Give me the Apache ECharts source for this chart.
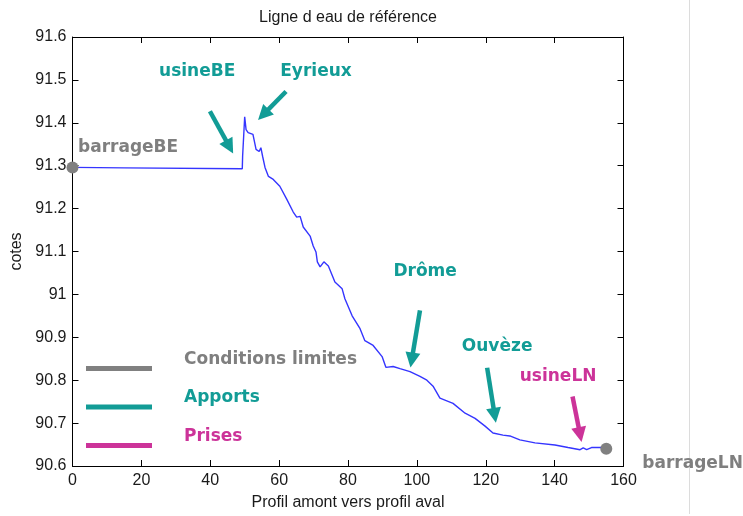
<!DOCTYPE html>
<html>
<head>
<meta charset="utf-8">
<script src="https://cdn.jsdelivr.net/npm/echarts@6/dist/echarts.min.js"></script>
<style>
  html, body { margin: 0; padding: 0; background: #fff; }
  #chart { width: 743px; height: 516px; }
</style>
</head>
<body>
<div id="chart"></div>
<script>
// Water line profile
const profil = [0, 15, 49.3, 49.4, 49.7, 50.0, 50.4, 51.0, 52.4, 53.3, 54.2, 54.7, 55.2, 55.9, 56.9, 58.3,
  60.2, 62.2, 64.1, 65.1, 66.1, 67.0, 69.0, 69.9, 70.7, 71.1, 71.9, 73.0, 74.3, 76.2, 78.3, 79.1, 81.2, 83.5,
  84.9, 87.3, 89.9, 91.0, 93.1, 95.1, 98.0, 100.9, 102.9, 104.7, 106.7, 110.5, 114.0, 116.9, 119.8, 122.1,
  125.0, 127.0, 129.9, 134.3, 140.1, 143.9, 147.4, 148.3, 149.3, 150.7, 153.7, 155]
const cotes = [91.296, 91.295, 91.293, 91.322, 91.325, 91.414, 91.384, 91.377, 91.373, 91.338, 91.333, 91.342,
  91.322, 91.296, 91.275, 91.268, 91.252, 91.222, 91.192, 91.180, 91.182, 91.157, 91.136, 91.113, 91.099, 91.076,
  91.064, 91.076, 91.066, 91.029, 91.013, 90.990, 90.950, 90.920, 90.892, 90.881, 90.855, 90.830, 90.832, 90.827,
  90.820, 90.809, 90.800, 90.786, 90.758, 90.746, 90.723, 90.711, 90.693, 90.677, 90.672, 90.670, 90.661, 90.654,
  90.649, 90.643, 90.638, 90.642, 90.638, 90.643, 90.643, 90.640]

const xTicks = { min: 0, max: 160, step: 20 }
const yTicks = { min: 90.6, max: 91.6, step: 0.1 }

// Annotations: boundary conditions, inflows (apports), withdrawals (prises)
const limitesNames = ['barrageBE', 'barrageLN']
const apportsNames = ['usineBE', 'Eyrieux', 'Drôme', 'Ouvèze']
const apportsLabelPos = [[36.2, 91.519], [70.7, 91.519], [102.4, 91.053], [123.3, 90.878]]
const apportsFrom = [[39.9, 91.427], [62.0, 91.473], [100.9, 90.963], [120.4, 90.829]]
const apportsTo = [[45.6, 91.344], [55.4, 91.419], [98.5, 90.847], [122.6, 90.718]]
const prisesNames = ['usineLN']
const prisesLabelPos = [[141.0, 90.808]]
const prisesFrom = [[145.2, 90.762]]
const prisesTo = [[147.4, 90.673]]

const GREY = '#808080'
const TEAL = '#129c96'
const MAGENTA = '#cc3399'
const annoFont = { fontFamily: '"DejaVu Sans", sans-serif', fontWeight: 'bold', fontSize: 17 }
const axisFont = { fontFamily: '"Liberation Sans", Arial, sans-serif', fontSize: 16, color: '#1a1a1a' }

const chart = echarts.init(document.getElementById('chart'))

function arrows(from, to, color) {
  return {
    silent: true,
    symbol: ['none', 'triangle'],
    symbolSize: [15, 15],
    lineStyle: { color, width: 4.5, type: 'solid', opacity: 1 },
    label: { show: false },
    data: from.map((p, i) => [{ coord: p }, { coord: to[i] }])
  }
}

function labelPoints(names, pos) {
  return names.map((n, i) => ({ name: n, value: pos[i] }))
}

const plainAxis = {
  min: xTicks.min, max: xTicks.max, interval: xTicks.step,
  axisLine: { onZero: false, lineStyle: { color: '#000', width: 1 } },
  axisTick: { inside: true, length: 6, lineStyle: { color: '#000' } },
  splitLine: { show: false }
}

const lastIdx = profil.length - 1

// legend text sits above its line: blank second row pushes the name up
const legendRich = {
  t: { ...annoFont, lineHeight: 18 },
  s: { fontSize: 10, lineHeight: 18 }
}

chart.setOption({
  backgroundColor: '#fff',
  animation: false,
  grid: { left: 72.5, right: 119.5, top: 37, bottom: 48 },
  legend: {
    orient: 'vertical',
    left: 81, top: 346,
    icon: 'rect',
    itemWidth: 66, itemHeight: 5, itemGap: 7,
    selectedMode: false,
    formatter: name => `{t|${name}}\n{s| }`,
    textStyle: { ...annoFont, padding: [0, 0, 0, 27], rich: legendRich },
    data: [
      { name: 'Conditions limites', textStyle: { color: '#7f7f7f' } },
      { name: 'Apports', textStyle: { color: TEAL } },
      { name: 'Prises', textStyle: { color: MAGENTA } }
    ]
  },
  xAxis: [
    {
      ...plainAxis, type: 'value', position: 'bottom',
      name: 'Profil amont vers profil aval', nameLocation: 'middle', nameGap: 29,
      nameTextStyle: axisFont,
      axisLabel: { ...axisFont, margin: 7 }
    },
    {
      ...plainAxis, type: 'value', position: 'top',
      name: 'Ligne d eau de référence', nameLocation: 'middle', nameGap: 11,
      nameTextStyle: axisFont,
      axisLabel: { show: false }
    }
  ],
  yAxis: [
    {
      ...plainAxis, type: 'value', position: 'left',
      min: yTicks.min, max: yTicks.max, interval: yTicks.step,
      name: 'cotes', nameLocation: 'middle', nameGap: 46, nameTextStyle: axisFont,
      axisLabel: { ...axisFont, margin: 6, formatter: v => String(+v.toFixed(1)) }
    },
    {
      ...plainAxis, type: 'value', position: 'right',
      min: yTicks.min, max: yTicks.max, interval: yTicks.step,
      axisLabel: { show: false }
    }
  ],
  series: [
    {
      name: 'Ligne d eau',
      type: 'line',
      data: profil.map((x, i) => [x, cotes[i]]),
      symbol: 'none',
      lineStyle: { color: '#3535ff', width: 1.4 },
      z: 3
    },
    {
      name: 'Conditions limites',
      type: 'scatter',
      clip: false,
      symbolSize: 12,
      itemStyle: { color: GREY, opacity: 1 },
      z: 4,
      data: [
        { name: limitesNames[0], value: [profil[0], cotes[0]],
          label: { position: [11.5, -13.5] } },
        { name: limitesNames[1], value: [profil[lastIdx], cotes[lastIdx]],
          label: { position: [42, 21] } }
      ],
      label: {
        show: true, formatter: '{b}', align: 'left', verticalAlign: 'middle',
        color: '#7f7f7f', opacity: 1, ...annoFont
      }
    },
    {
      name: 'Apports',
      type: 'scatter',
      symbolSize: 0,
      itemStyle: { color: TEAL, opacity: 1 },
      data: labelPoints(apportsNames, apportsLabelPos),
      label: { show: true, position: 'inside', formatter: '{b}', color: TEAL, opacity: 1, ...annoFont },
      markLine: arrows(apportsFrom, apportsTo, TEAL)
    },
    {
      name: 'Prises',
      type: 'scatter',
      symbolSize: 0,
      itemStyle: { color: MAGENTA, opacity: 1 },
      data: labelPoints(prisesNames, prisesLabelPos),
      label: { show: true, position: 'inside', formatter: '{b}', color: MAGENTA, opacity: 1, ...annoFont },
      markLine: arrows(prisesFrom, prisesTo, MAGENTA)
    }
  ],
  graphic: [
    {
      type: 'line', silent: true, z: -1,
      shape: { x1: 689.5, y1: 0, x2: 689.5, y2: 514 },
      style: { stroke: '#dcdcdc', lineWidth: 1 }
    }
  ]
})
</script>
</body>
</html>
